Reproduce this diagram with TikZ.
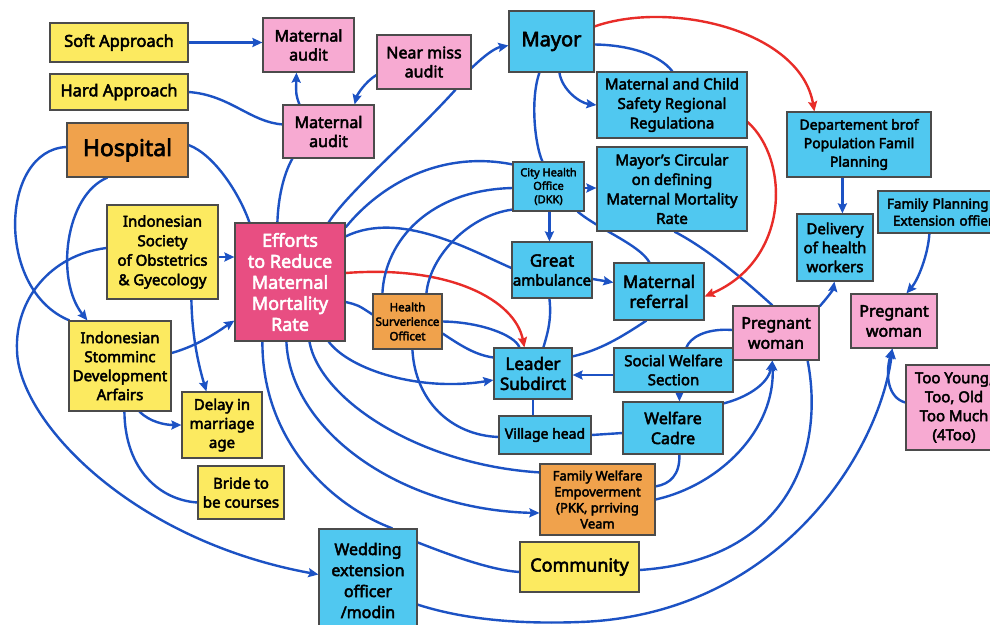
\documentclass[tikz,border=0pt]{standalone}
\usepackage{fontspec}
\setmainfont{Noto Sans}[FakeBold=3]
\usetikzlibrary{arrows.meta,calc,backgrounds}
\definecolor{bxyel}{RGB}{252,234,96}
\definecolor{bxorg}{RGB}{240,162,76}
\definecolor{bxpnk}{RGB}{247,170,210}
\definecolor{bxrose}{RGB}{232,78,130}
\definecolor{bxcyn}{RGB}{80,200,240}
\definecolor{bxedge}{RGB}{75,75,75}
\definecolor{lnblue}{RGB}{28,82,196}
\definecolor{lnred}{RGB}{232,44,40}
\newcommand\fsz[2]{\fontsize{#1}{#2}\selectfont}

\begin{document}
\begin{tikzpicture}[x=1pt,y=-1pt,
  box/.style={draw=bxedge,line width=1.2pt,inner sep=0pt,align=center,text=black},
  ybox/.style={box,fill=bxyel},
  obox/.style={box,fill=bxorg},
  pbox/.style={box,fill=bxpnk},
  cbox/.style={box,fill=bxcyn},
  rbox/.style={box,fill=bxrose,text=white},
  link/.style={draw=lnblue,line width=2.4pt},
  arr/.style={link,-{Stealth[length=10pt,width=9pt,inset=1.5pt]}},
  rarr/.style={draw=lnred,line width=2.4pt,-{Stealth[length=10pt,width=9pt,inset=1.5pt]}}]

\useasboundingbox (0,0) rectangle (990,624);

% ---------- boxes ----------
\node[ybox,minimum width=138,minimum height=39,font=\fsz{16.5}{19}] (soft) at (119,42.5) {Soft Approach};
\node[ybox,minimum width=138,minimum height=36,font=\fsz{16.5}{19}] (hard) at (119,92) {Hard Approach};
\node[obox,minimum width=121,minimum height=54,font=\fsz{23}{27}] (hosp) at (127.5,150) {Hospital};
\node[pbox,minimum width=91,minimum height=54,font=\fsz{16}{19}] (maudA) at (308.5,45) {Maternal\\audit};
\node[pbox,minimum width=94,minimum height=54,font=\fsz{16}{19}] (nearmiss) at (424,62) {Near miss\\audit};
\node[pbox,minimum width=91,minimum height=53,font=\fsz{16}{19}] (maudB) at (328.5,131.5) {Maternal\\audit};
\node[cbox,minimum width=85,minimum height=61,font=\fsz{20}{24}] (mayor) at (551.5,41.5) {Mayor};
\node[cbox,minimum width=150,minimum height=66,font=\fsz{15}{19.5}] (mcs) at (672,105) {Maternal and Child\\Safety Regional\\Regulationa};
\node[cbox,minimum width=150,minimum height=84,font=\fsz{15}{19.5}] (circ) at (672,189) {Mayor’s Circular\\on defining\\Maternal Mortality\\Rate};
\node[cbox,minimum width=71,minimum height=49,font=\fsz{11}{13.5}] (dkk) at (548.5,186.5) {City Health\\Office\\(DKK)};
\node[cbox,minimum width=144,minimum height=65,font=\fsz{14}{18.5}] (dept) at (859,144.5) {Departement brof\\Population Famil\\Planning};
\node[cbox,minimum width=126,minimum height=42,text width=108,align=left,font=\fsz{13.5}{17}] (fpe) at (941,212) {Family Planning\\\hspace*{6pt}Extension~offier};
\node[cbox,minimum width=76,minimum height=67,font=\fsz{15}{19}] (deliv) at (835,247.5) {Delivery\\of health\\workers};
\node[pbox,minimum width=86,minimum height=54,font=\fsz{16}{20}] (pregR) at (894,321) {Pregnant\\woman};
\node[pbox,minimum width=96,minimum height=85,font=\fsz{15}{19}] (too) at (954,407.5) {Too Young,\\Too, Old\\Too Much\\(4Too)};
\node[pbox,minimum width=86,minimum height=54,font=\fsz{16}{20}] (pregM) at (776,333) {Pregnant\\woman};
\node[cbox,minimum width=80,minimum height=56,font=\fsz{15}{19}] (amb) at (552,270) {{\fsz{17}{20}Great}\\ambulance};
\node[cbox,minimum width=90,minimum height=57,font=\fsz{17}{20}] (mref) at (659,291.5) {Maternal\\referral};
\node[obox,minimum width=69,minimum height=55,font=\fsz{11.5}{14.5}] (hso) at (407.5,321.5) {Health\\Surverience\\Officet};
\node[cbox,minimum width=78,minimum height=51,font=\fsz{17}{20}] (leader) at (533,373.5) {Leader\\Subdirct};
\node[cbox,minimum width=119,minimum height=44,font=\fsz{15}{19}] (swel) at (673.5,370) {Social Welfare\\Section};
\node[cbox,minimum width=100,minimum height=52,font=\fsz{16}{20}] (wcad) at (673,428) {Welfare\\Cadre};
\node[cbox,minimum width=92,minimum height=38,font=\fsz{14}{17}] (vhead) at (545,435) {Village head};
\node[obox,minimum width=115,minimum height=71,font=\fsz{13}{16}] (fwe) at (597.5,499.5) {Family Welfare\\Empoverment\\(PKK, prriving\\Veam};
\node[ybox,minimum width=119,minimum height=50,font=\fsz{18}{22}] (comm) at (579.5,567) {Community};
\node[cbox,minimum width=98,minimum height=103,font=\fsz{16}{21}] (wed) at (368,580.5) {Wedding\\extension\\officer\\/modin};
\node[ybox,minimum width=86,minimum height=53,font=\fsz{15}{19}] (bride) at (241,492.5) {Bride to\\be courses};
\node[ybox,minimum width=80,minimum height=66,font=\fsz{15}{19}] (delay) at (222,425) {Delay in\\marriage\\age};
\node[ybox,minimum width=102,minimum height=90,font=\fsz{15}{19}] (stom) at (120,366) {Indonesian\\Stomminc\\Development\\Arfairs};
\node[ybox,minimum width=111,minimum height=94,font=\fsz{15}{19.5}] (soc) at (162.5,252) {Indonesian\\Society\\of Obstetrics\\\& Gyecology};
\node[rbox,minimum width=110,minimum height=118,font=\fsz{18}{21}] (eff) at (290,282) {Efforts\\to Reduce\\Maternal\\Mortality\\Rate};

% ---------- connectors (behind the boxes) ----------
\begin{pgfonlayer}{background}
\fill[white] (0,0) rectangle (990,624);

% approaches and audits
\draw[arr] (soft.east) -- ($(maudA.west)+(0,-2.5)$);
\draw[link] (hard.east) .. controls (230,95) and (250,122) .. ($(maudB.north west)+(0,20)$);
\draw[arr] ($(maudB.north west)+(17,0)$) .. controls (296,95) .. ($(maudA.south west)+(34,0)$);
\draw[arr] ($(nearmiss.west)+(0,13)$) .. controls (365,82) and (357,95) .. ($(maudB.north east)+(-20,0)$);
\draw[arr] ($(nearmiss.east)+(0,6)$) .. controls (485,55) and (495,48) .. ($(mayor.west)+(0,4)$);
\draw[link] ($(nearmiss.south east)+(-16,0)$) .. controls (410,140) and (350,190) .. ($(eff.north east)+(-17,0)$);
\draw[link] ($(maudB.south west)+(10,0)$) .. controls (283,175) and (278,200) .. ($(eff.north west)+(43,0)$);

% hospital and societies
\draw[link] ($(hosp.east)+(0,-5)$) .. controls (215,155) and (240,195) .. ($(eff.north west)+(15,0)$);
\draw[link] ($(hosp.west)+(0,-3)$) .. controls (0,150) and (-5,290) .. ($(stom.north west)+(1,0)$);
\draw[arr] ($(hosp.south west)+(41,0)$) .. controls (65,195) and (55,280) .. ($(stom.north west)+(19,0)$);
\draw[arr] ($(soc.east)+(0,5)$) -- ($(eff.west)+(0,-25)$);
\draw[arr] ($(soc.south west)+(85,0)$) .. controls (192,340) and (200,370) .. ($(delay.north west)+(25,0)$);
\draw[arr] ($(soc.west)+(0,-4)$) .. controls (50,255) and (15,300) .. (17,350)
      .. controls (18,420) and (130,540) .. ($(wed.west)+(0,-6)$);
\draw[arr] ($(stom.east)+(0,-13)$) .. controls (200,345) and (220,330) .. ($(eff.south west)+(0,-21)$);
\draw[arr] ($(stom.south west)+(71,0)$) .. controls (150,422) and (165,425) .. (delay.west);
\draw[link] ($(stom.south west)+(56,0)$) .. controls (125,470) and (160,500) .. ($(bride.west)+(0,10)$);

% from the central box
\draw[link] ($(eff.south west)+(28,0)$) .. controls (262,440) and (330,505) .. ($(wed.north west)+(74,0)$);
\draw[arr] ($(eff.south west)+(52,0)$) .. controls (290,430) and (400,510) .. ($(fwe.west)+(0,13.5)$);
\draw[link] ($(eff.south west)+(75,0)$) .. controls (320,400) and (420,465) .. ($(fwe.north west)+(0,9)$);
\draw[arr] ($(eff.south east)+(-17,0)$) .. controls (350,370) and (420,392) .. ($(leader.west)+(0,6.5)$);
\draw[rarr] ($(eff.east)+(0,-9)$) .. controls (450,265) and (515,300) .. ($(leader.north west)+(31,0)$);
\draw[link] ($(eff.east)+(0,20)$) .. controls (358,305) .. ($(hso.west)+(0,-7)$);
\draw[link] ($(eff.north east)+(0,14)$) .. controls (400,210) and (470,250) .. ($(amb.west)+(0,-2)$);
\draw[link] ($(eff.north east)+(0,5)$) .. controls (380,185) and (440,150) .. ($(dkk.north west)+(0,3)$);

% health surveillance officer
\draw[link] ($(hso.north west)+(10,0)$) .. controls (385,240) and (430,190) .. ($(dkk.west)+(0,1.5)$);
\draw[link] ($(hso.north west)+(54,0)$) .. controls (430,255) and (470,215) .. ($(dkk.south west)+(0,-2)$);
\draw[link] (hso.east) .. controls (480,322) and (515,335) .. ($(leader.north west)+(26,0)$);
\draw[link] ($(hso.east)+(0,12)$) .. controls (460,345) and (475,355) .. ($(leader.west)+(0,-16)$);
\draw[link] ($(hso.south west)+(40,0)$) .. controls (415,400) and (450,435) .. ($(vhead.west)+(0,2)$);

% mayor and city health office
\draw[rarr] ($(mayor.north east)+(0,16)$) .. controls (670,0) and (800,30) .. ($(dept.north west)+(28,0)$);
\draw[link] ($(mayor.east)+(0,3)$) .. controls (630,45) and (660,55) .. ($(mcs.north west)+(76,0)$);
\draw[arr] ($(mayor.south west)+(51,0)$) .. controls (562,90) and (580,103) .. (mcs.west);
\draw[link] ($(mayor.south west)+(31,0)$) .. controls (530,100) and (535,145) .. ($(dkk.north west)+(30,0)$);
\draw[arr] ($(dkk.east)+(0,1.5)$) -- ($(circ.west)+(0,-1)$);
\draw[arr] ($(dkk.south west)+(37,0)$) -- ($(amb.north west)+(38,0)$);
\draw[link] ($(dkk.south east)+(-7,0)$) .. controls (600,230) and (640,245) .. ($(mref.north west)+(36,0)$);
\draw[link] ($(circ.south west)+(78,0)$) .. controls (710,250) and (750,285) .. ($(pregM.north west)+(40,0)$);
\draw[rarr] ($(mcs.east)+(0,17)$) .. controls (790,160) and (790,260) .. ($(mref.east)+(0,5)$);

% referral chain
\draw[arr] ($(amb.east)+(0,9)$) -- ($(mref.west)+(0,-9)$);
\draw[link] ($(amb.south west)+(38,0)$) .. controls (552,320) and (547,335) .. ($(leader.north west)+(50,0)$);
\draw[link] ($(mref.south west)+(33,0)$) .. controls (620,338) and (600,350) .. ($(leader.north east)+(0,9)$);
\draw[arr] ($(swel.west)+(0,5)$) -- ($(leader.east)+(0,1.5)$);
\draw[link] (leader.south) -- (vhead.north -| leader.south);
\draw[link] (vhead.east) -- ($(wcad.west)+(0,5)$);
\draw[arr] ($(swel.south west)+(66,0)$) -- ($(wcad.north west)+(57,0)$);
\draw[link] ($(pregM.west)+(0,-3)$) .. controls (705,328) and (690,338) .. ($(swel.north west)+(73,0)$);
\draw[arr] ($(wcad.north east)+(0,2)$) .. controls (745,398) and (768,385) .. ($(pregM.south west)+(40,0)$);
\draw[arr] (fwe.east) .. controls (720,485) and (775,430) .. ($(pregM.south west)+(40,0)$);
\draw[link] ($(wcad.south west)+(57,0)$) .. controls (680,475) and (670,484) .. ($(fwe.north east)+(0,23)$);
\draw[link] ($(pregM.south east)+(-12,0)$) .. controls (825,450) and (790,560) .. ($(comm.east)+(0,3)$);

% community level and family planning
\draw[link] ($(wed.north east)+(0,14)$) .. controls (450,555) and (490,570) .. ($(comm.west)+(0,5)$);
\draw[arr] ($(wed.south east)+(0,-28)$) .. controls (450,615) and (500,625) .. (580,622)
      .. controls (780,615) and (880,450) .. ($(pregR.south west)+(42,0)$);
\draw[arr] ($(too.west)+(0,-5)$) .. controls (888,398) and (885,375) .. ($(pregR.south west)+(42,0)$);
\draw[arr] ($(fpe.south west)+(52,0)$) .. controls (928,255) and (918,280) .. ($(pregR.north west)+(56,0)$);
\draw[arr] ($(dept.south west)+(56,0)$) -- ($(deliv.north west)+(46,0)$);
\draw[arr] ($(pregM.north east)+(0,1)$) .. controls (827,298) and (833,290) .. ($(deliv.south west)+(38,0)$);
\end{pgfonlayer}
\end{tikzpicture}
\end{document}
